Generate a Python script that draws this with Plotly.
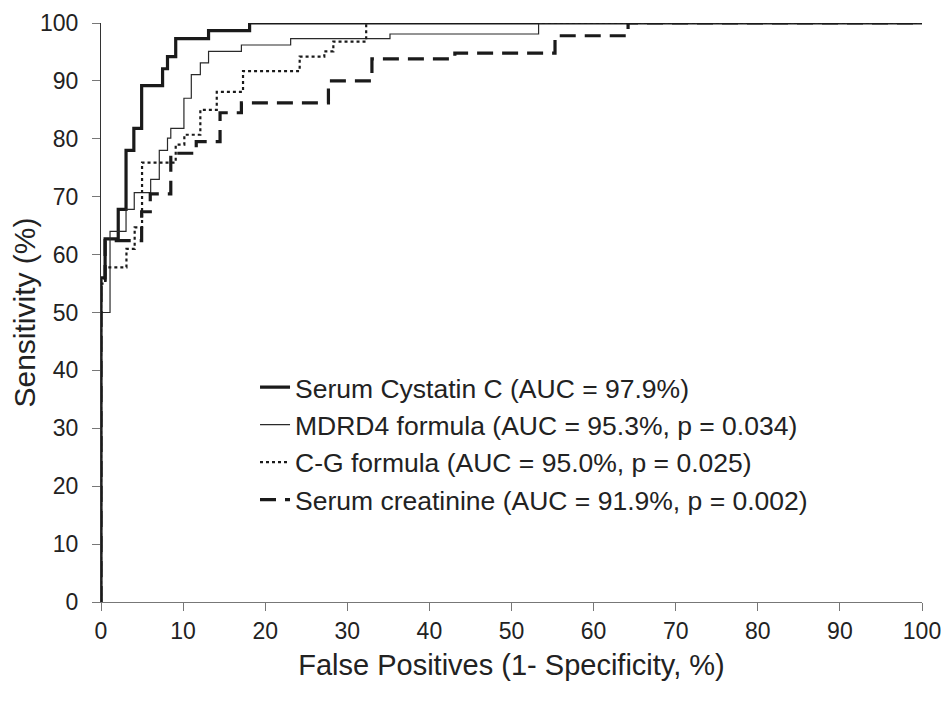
import plotly.graph_objects as go

# Step-point data (x = 1-specificity %, y = sensitivity %)
cys_x = [0, 0, 0.5, 2.1, 3.05, 4.0, 4.95, 7.5, 8.1, 9.1, 13.1, 18.1, 100]
cys_y = [0, 56, 62.7, 67.8, 78.0, 81.8, 89.2, 92.1, 94.2, 97.3, 98.7, 100, 100]

mdrd_x = [0, 0, 1.1, 3.05, 4.05, 6.05, 7.1, 8.1, 8.5, 10.1, 11.0, 12.1, 13.1, 17.1, 23.1, 35.2, 53.3, 100]
mdrd_y = [0, 50, 64.0, 67.8, 70.7, 73.0, 78.0, 80.1, 81.8, 87.0, 91.1, 93.1, 95.1, 96.2, 97.3, 98.1, 100, 100]

cg_x = [0, 0, 0.5, 3.1, 4.1, 5.0, 9.1, 10.15, 12.1, 14.1, 17.3, 24.2, 27.2, 28.3, 32.3, 100]
cg_y = [0, 55, 57.8, 61.0, 64.7, 75.9, 79.0, 80.7, 85.0, 88.1, 91.7, 94.2, 95.1, 96.8, 100, 100]

cr_x = [0, 0, 0.5, 4.95, 6.0, 8.5, 11.6, 14.5, 17.1, 27.7, 33.0, 43.1, 55.3, 64.2, 100]
cr_y = [0, 55.6, 62.4, 67.4, 70.5, 77.5, 79.5, 84.5, 86.2, 90.0, 93.8, 94.8, 97.8, 100, 100]

names = [
    "Serum Cystatin C (AUC = 97.9%)",
    "MDRD4 formula (AUC = 95.3%, p = 0.034)",
    "C-G formula (AUC = 95.0%, p = 0.025)",
    "Serum creatinine (AUC = 91.9%, p = 0.002)",
]

x_ticks = [0, 10, 20, 30, 40, 50, 60, 70, 80, 90, 100]
y_ticks = [0, 10, 20, 30, 40, 50, 60, 70, 80, 90, 100]

styles = [
    dict(color="#1a1a1a", width=3.2),
    dict(color="#2a2a2a", width=1.2),
    dict(color="#1a1a1a", width=2.2, dash="dot"),
    dict(color="#1a1a1a", width=3.2, dash="16px,9px"),
]

fig = go.Figure()
series = [(cys_x, cys_y), (mdrd_x, mdrd_y), (cg_x, cg_y), (cr_x, cr_y)]
for i, ((xs, ys), nm, st) in enumerate(zip(series, names, styles)):
    fig.add_trace(go.Scatter(
        x=xs, y=ys, mode="lines", name=nm, line=dict(shape="hv", **st),
        legendgroup=f"g{i}",
    ))

font_family = "Liberation Sans, Arial, sans-serif"
# the page body adds an 8px offset; margins compensate so the plot sits where the reference does
fig.update_layout(
    width=949, height=712,
    margin=dict(l=93, r=35, t=15, b=118),
    paper_bgcolor="white", plot_bgcolor="white",
    font=dict(family=font_family, color="#222", size=23),
    showlegend=True,
    legend=dict(
        x=0.1876, y=0.412, xanchor="left", yanchor="top",
        bgcolor="rgba(0,0,0,0)", font=dict(size=26.5, color="#222"),
        traceorder="grouped", tracegroupgap=0,
    ),
    xaxis=dict(
        range=[0, 100], tickvals=x_ticks, ticks="outside", ticklen=8,
        tickcolor="#777", showline=True, linecolor="#777", linewidth=1,
        showgrid=False, zeroline=False, tickfont=dict(size=23),
        automargin=False, ticklabeloverflow="allow",
        title=dict(text="False Positives (1- Specificity, %)", font=dict(size=29), standoff=12),
    ),
    yaxis=dict(
        range=[0, 100], tickvals=y_ticks, ticks="outside", ticklen=8,
        tickcolor="#777", showline=True, linecolor="#333", linewidth=1,
        showgrid=False, zeroline=False, tickfont=dict(size=23),
        ticklabelstandoff=9, automargin=False, ticklabeloverflow="allow",
        title=dict(text="Sensitivity (%)", font=dict(size=30), standoff=12),
    ),
)

fig.write_html("out.html")
